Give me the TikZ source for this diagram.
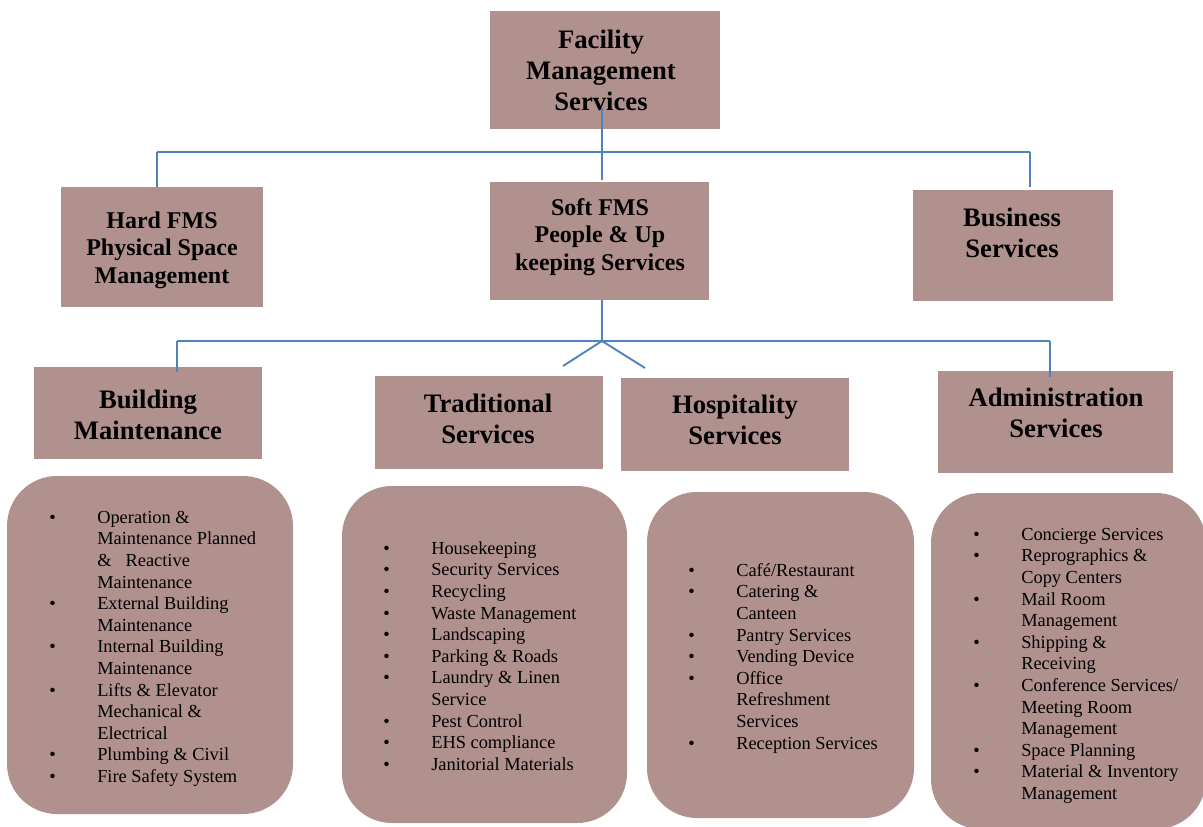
\documentclass[tikz,border=0pt]{standalone}
\usepackage{fontspec}
\setmainfont{Liberation Serif}
\usetikzlibrary{fit}
\definecolor{boxfill}{RGB}{177,145,142}
\definecolor{linkblue}{RGB}{79,129,189}
\newcommand{\myBul}{\makebox[36pt][l]{\textbullet}}
\newcommand{\myInd}{\hspace*{36pt}}
\newcommand{\myFs}{\rule{0pt}{10pt}}
\newcommand{\myHs}{\rule{0pt}{15pt}}
\newcommand{\myHsm}{\rule{0pt}{13.5pt}}
\begin{document}
\begin{tikzpicture}[x=0.75pt,y=-0.75pt,
  box/.style={fill=boxfill, draw=none, inner sep=0pt},
  listbox/.style={box, rounded corners=37.5pt},
  head/.style={font=\fontsize{20}{23.5}\selectfont\bfseries, align=center, inner sep=0pt, anchor=north},
  headsm/.style={font=\fontsize{18}{20.7}\selectfont\bfseries, align=center, inner sep=0pt, anchor=north},
  items/.style={font=\fontsize{13.8}{16.2}\selectfont, align=left, inner sep=0pt, anchor=north west},
  conn/.style={draw=linkblue, line width=1.4pt}]
\useasboundingbox (0,0) rectangle (1203,827);
\clip (0,0) rectangle (1203,827);
\fill[white] (0,0) rectangle (1203,827);

% boxes
\node[box, fit={(490,11) (720,129)}] (fms) {};
\node[box, fit={(61,187) (263,307)}] (hard) {};
\node[box, fit={(490,182) (709,300)}] (soft) {};
\node[box, fit={(913,190) (1113,301)}] (biz) {};
\node[box, fit={(34,367) (262,459)}] (bm) {};
\node[box, fit={(375,376) (603,469)}] (trad) {};
\node[box, fit={(621,378) (849,471)}] (hosp) {};
\node[box, fit={(938,371) (1173,473)}] (adm) {};
\node[listbox, fit={(7,476) (293,814)}] (bml) {};
\node[listbox, fit={(342,486) (627,823)}] (tradl) {};
\node[listbox, fit={(647,492) (914,818)}] (hospl) {};
\node[listbox, fit={(931,493) (1206,829)}] (adml) {};

% headings
\node[head] (fmst) at (601,28) {\myHs Facility\\Management\\Services};
\node[headsm] (hardt) at (162,210) {\myHsm Hard FMS\\Physical Space\\Management};
\node[headsm] (softt) at (600,197) {\myHsm Soft FMS\\People \& Up\\keeping Services};
\node[head] (bizt) at (1012,206) {\myHs Business\\Services};
\node[head] (bmt) at (148,388) {\myHs Building\\Maintenance};
\node[head] (tradt) at (488,392) {\myHs Traditional\\Services};
\node[head] (hospt) at (735,393) {\myHs Hospitality\\Services};
\node[head] (admt) at (1056,386) {\myHs Administration\\Services};

% lists
\node[items] (bmi) at (49,509.7) {\myFs\myBul Operation \&\\
\myInd Maintenance Planned\\
\myInd \&\hspace{10.5pt}Reactive\\
\myInd Maintenance\\
\myBul External Building\\
\myInd Maintenance\\
\myBul Internal Building\\
\myInd Maintenance\\
\myBul Lifts \& Elevator\\
\myInd Mechanical \&\\
\myInd Electrical\\
\myBul Plumbing \& Civil\\
\myBul Fire Safety System};

\node[items] (tradi) at (383,540.7) {\myFs\myBul Housekeeping\\
\myBul Security Services\\
\myBul Recycling\\
\myBul Waste Management\\
\myBul Landscaping\\
\myBul Parking \& Roads\\
\myBul Laundry \& Linen\\
\myInd Service\\
\myBul Pest Control\\
\myBul EHS compliance\\
\myBul Janitorial Materials};

\node[items] (hospi) at (688,562.7) {\myFs\myBul Café/Restaurant\\
\myBul Catering \&\\
\myInd Canteen\\
\myBul Pantry Services\\
\myBul Vending Device\\
\myBul Office\\
\myInd Refreshment\\
\myInd Services\\
\myBul Reception Services};

\node[items] (admi) at (973,526.7) {\myFs\myBul Concierge Services\\
\myBul Reprographics \&\\
\myInd Copy Centers\\
\myBul Mail Room\\
\myInd Management\\
\myBul Shipping \&\\
\myInd Receiving\\
\myBul Conference Services/\\
\myInd Meeting Room\\
\myInd Management\\
\myBul Space Planning\\
\myBul Material \& Inventory\\
\myInd Management};

% connectors
\coordinate (t0) at (602,108);
\coordinate (j1) at (602,152);
\coordinate (jL) at (157,152);
\coordinate (jR) at (1030,152);
\coordinate (jRe) at (1030,187);
\coordinate (jMe) at (602,180);
\draw[conn] (t0) -- (j1);
\draw[conn] (jL) -- (jR);
\draw[conn] (jL) -- (jL |- hard.north);
\draw[conn] (j1) -- (jMe);
\draw[conn] (jR) -- (jRe);

\coordinate (s0) at (602,300);
\coordinate (j2) at (602,341);
\coordinate (kL) at (177,341);
\coordinate (kR) at (1050,341);
\coordinate (kLe) at (177,372);
\coordinate (kRe) at (1050,377);
\coordinate (vL) at (563,366);
\coordinate (vR) at (645,368);
\draw[conn] (s0) -- (j2);
\draw[conn] (kL) -- (kR);
\draw[conn] (kL) -- (kLe);
\draw[conn] (kR) -- (kRe);
\draw[conn] (j2) -- (vL);
\draw[conn] (j2) -- (vR);
\end{tikzpicture}
\end{document}
